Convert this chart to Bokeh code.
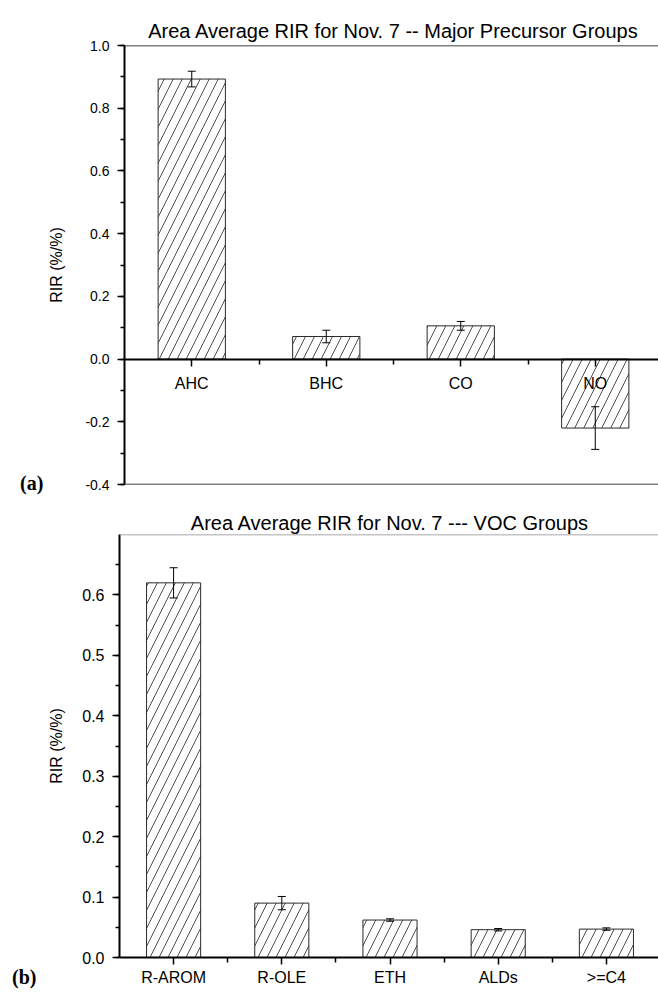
from bokeh.plotting import figure
from bokeh.models import (ColumnDataSource, Whisker, TeeHead, FixedTicker, Div,
                          SingleIntervalTicker, PrintfTickFormatter, Span, Range1d)
from bokeh.layouts import column, row
from bokeh.embed import file_html
from bokeh.resources import INLINE

# ---- data: panel (a) major precursor groups ----
groups_a = ["AHC", "BHC", "CO", "NO"]
rir_a = [0.893, 0.072, 0.106, -0.220]
err_a = [0.025, 0.020, 0.014, 0.068]
title_a = "Area Average RIR for Nov. 7 -- Major Precursor Groups"

# ---- data: panel (b) VOC groups ----
groups_b = ["R-AROM", "R-OLE", "ETH", "ALDs", ">=C4"]
rir_b = [0.620, 0.090, 0.062, 0.046, 0.047]
err_b = [0.025, 0.011, 0.002, 0.002, 0.002]
title_b = "Area Average RIR for Nov. 7 --- VOC Groups"

y_label = "RIR (%/%)"
FONT = "Liberation Sans"
SIDE_W = 45


def make_panel(groups, vals, errs, title, y0, y1, step, frame_w, frame_h,
               b_left, b_top, b_bottom, tick_fs, cat_fs, cat_standoff,
               top_line_color, title_fs, title_standoff, title_offset,
               label_standoff, fixed_axis):
    n = len(groups)
    xs = [i + 0.5 for i in range(n)]
    src = ColumnDataSource(dict(
        x=xs, top=vals,
        upper=[v + e for v, e in zip(vals, errs)],
        lower=[v - e for v, e in zip(vals, errs)],
    ))
    p = figure(frame_width=frame_w, frame_height=frame_h,
               min_border_left=b_left, min_border_right=0,
               min_border_top=b_top, min_border_bottom=b_bottom,
               x_range=Range1d(0, n), y_range=Range1d(y0, y1),
               output_backend="svg", toolbar_location=None, title=title,
               margin=0)
    p.outline_line_color = None
    p.grid.visible = False
    p.background_fill_color = "white"
    p.border_fill_color = "white"

    p.vbar(x="x", top="top", bottom=0, width=0.5, source=src,
           fill_color="white", line_color="#2a2a2a", line_width=1,
           hatch_pattern="/", hatch_scale=18, hatch_weight=0.9,
           hatch_color="#3a3a3a")

    w = Whisker(base="x", upper="upper", lower="lower", source=src,
                line_color="black", line_width=1, level="annotation",
                upper_head=TeeHead(size=8, line_color="black", line_width=1),
                lower_head=TeeHead(size=8, line_color="black", line_width=1))
    p.add_layout(w)

    # title
    p.title.text_font = FONT
    p.title.text_font_size = title_fs
    p.title.text_font_style = "normal"
    p.title.align = "center"
    p.title.standoff = title_standoff
    p.title.offset = title_offset
    p.title.text_color = "black"

    # x axis
    xa = p.xaxis[0]
    if fixed_axis:
        xa.fixed_location = 0
    xa.ticker = FixedTicker(ticks=xs, minor_ticks=[float(i) for i in range(1, n + 1)])
    xa.major_label_overrides = {x: g for x, g in zip(xs, groups)}
    xa.major_label_text_font = FONT
    xa.major_label_text_font_size = cat_fs
    xa.major_label_text_color = "black"
    xa.major_label_standoff = cat_standoff
    xa.axis_line_width = 2
    xa.axis_line_color = "black"
    xa.major_tick_out = 7
    xa.major_tick_in = 0
    xa.minor_tick_out = 5
    xa.minor_tick_in = 0
    xa.major_tick_line_width = 1.5
    xa.minor_tick_line_width = 1.5
    xa.major_tick_line_color = "black"
    xa.minor_tick_line_color = "black"

    # y axis
    ya = p.yaxis[0]
    ya.ticker = SingleIntervalTicker(interval=step, num_minor_ticks=2)
    ya.formatter = PrintfTickFormatter(format="%.1f")
    ya.major_label_text_font = FONT
    ya.major_label_text_font_size = tick_fs
    ya.major_label_text_color = "black"
    ya.major_label_standoff = 8
    ya.axis_line_width = 2
    ya.axis_line_color = "black"
    ya.major_tick_out = 7
    ya.major_tick_in = 0
    ya.minor_tick_out = 4
    ya.minor_tick_in = 0
    ya.major_tick_line_width = 1.5
    ya.minor_tick_line_width = 1.5
    ya.axis_label = y_label
    ya.axis_label_text_font = FONT
    ya.axis_label_text_font_size = "16px"
    ya.axis_label_text_font_style = "normal"
    ya.axis_label_text_color = "black"
    ya.axis_label_standoff = label_standoff

    # frame lines
    p.add_layout(Span(location=y1, dimension="width", line_color=top_line_color,
                      line_width=1.5))
    if y0 != 0:
        p.add_layout(Span(location=y0, dimension="width", line_color="black",
                          line_width=1.5))
    return p


def side_tag(tag, height, top_px, left_px):
    html = ('<div style="margin:0; padding-top:%dpx; padding-left:%dpx; '
            'font-family:\'Liberation Serif\'; font-weight:bold; '
            'font-size:20px; line-height:24px; color:black;">%s</div>'
            % (top_px, left_px, tag))
    return Div(text=html, width=SIDE_W, height=height, margin=0,
               styles={"background-color": "white", "overflow": "visible"})


pa = make_panel(groups_a, rir_a, err_a, title_a, -0.4, 1.0, 0.2,
                frame_w=538, frame_h=439, b_left=120 - SIDE_W, b_top=45, b_bottom=24,
                tick_fs="14px", cat_fs="16px", cat_standoff=9,
                top_line_color="black", title_fs="20px", title_standoff=7,
                title_offset=-8, label_standoff=17, fixed_axis=True)

pb = make_panel(groups_b, rir_b, err_b, title_b, 0.0, 0.7, 0.1,
                frame_w=541, frame_h=423, b_left=117 - SIDE_W, b_top=26, b_bottom=35,
                tick_fs="16px", cat_fs="16px", cat_standoff=4,
                top_line_color="#8a8a8a", title_fs="20px", title_standoff=2,
                title_offset=-9, label_standoff=14, fixed_axis=False)

div_a = side_tag("(a)", 508, 471, 20)
div_b = side_tag("(b)", 484, 457, 12)

layout = column(row(div_a, pa, spacing=0, margin=0),
                row(div_b, pb, spacing=0, margin=0), spacing=0, margin=0)

with open("out.html", "w") as f:
    f.write(file_html(layout, INLINE))
